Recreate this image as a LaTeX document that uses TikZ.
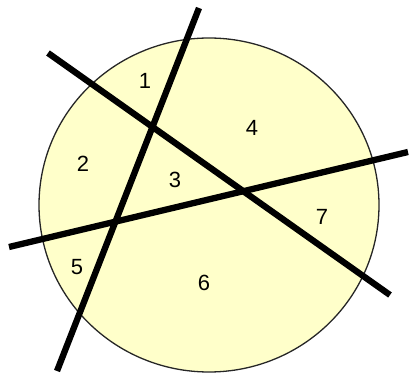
\documentclass[tikz,border=0pt]{standalone}
\usepackage{fontspec}
\setmainfont{Liberation Sans}
\definecolor{disc}{RGB}{255,255,202}
\begin{document}
\begin{tikzpicture}[x=1pt,y=-1pt,
  cut/.style={line width=6.3pt,black,line cap=butt},
  lbl/.style={font=\fontsize{22}{22}\selectfont,inner sep=0pt}]
\useasboundingbox (0,0) rectangle (410,379);
\fill[disc] (209,205) ellipse [x radius=170, y radius=167];
\draw[line width=1.3pt,black!85] (209,205) ellipse [x radius=170, y radius=167];
\coordinate (a1) at (199,8);
\coordinate (a2) at (57,371);
\coordinate (b1) at (48,53);
\coordinate (b2) at (390,295);
\coordinate (c1) at (9,247);
\coordinate (c2) at (408,152);
\draw[cut] (a1) -- (a2);
\draw[cut] (b1) -- (b2);
\draw[cut] (c1) -- (c2);
\node[lbl] (n1) at (145,81) {1};
\node[lbl] (n2) at (83,164) {2};
\node[lbl] (n3) at (175,180) {3};
\node[lbl] (n4) at (252,128) {4};
\node[lbl] (n5) at (77,267) {5};
\node[lbl] (n6) at (204,283) {6};
\node[lbl] (n7) at (322,217) {7};
\end{tikzpicture}
\end{document}
